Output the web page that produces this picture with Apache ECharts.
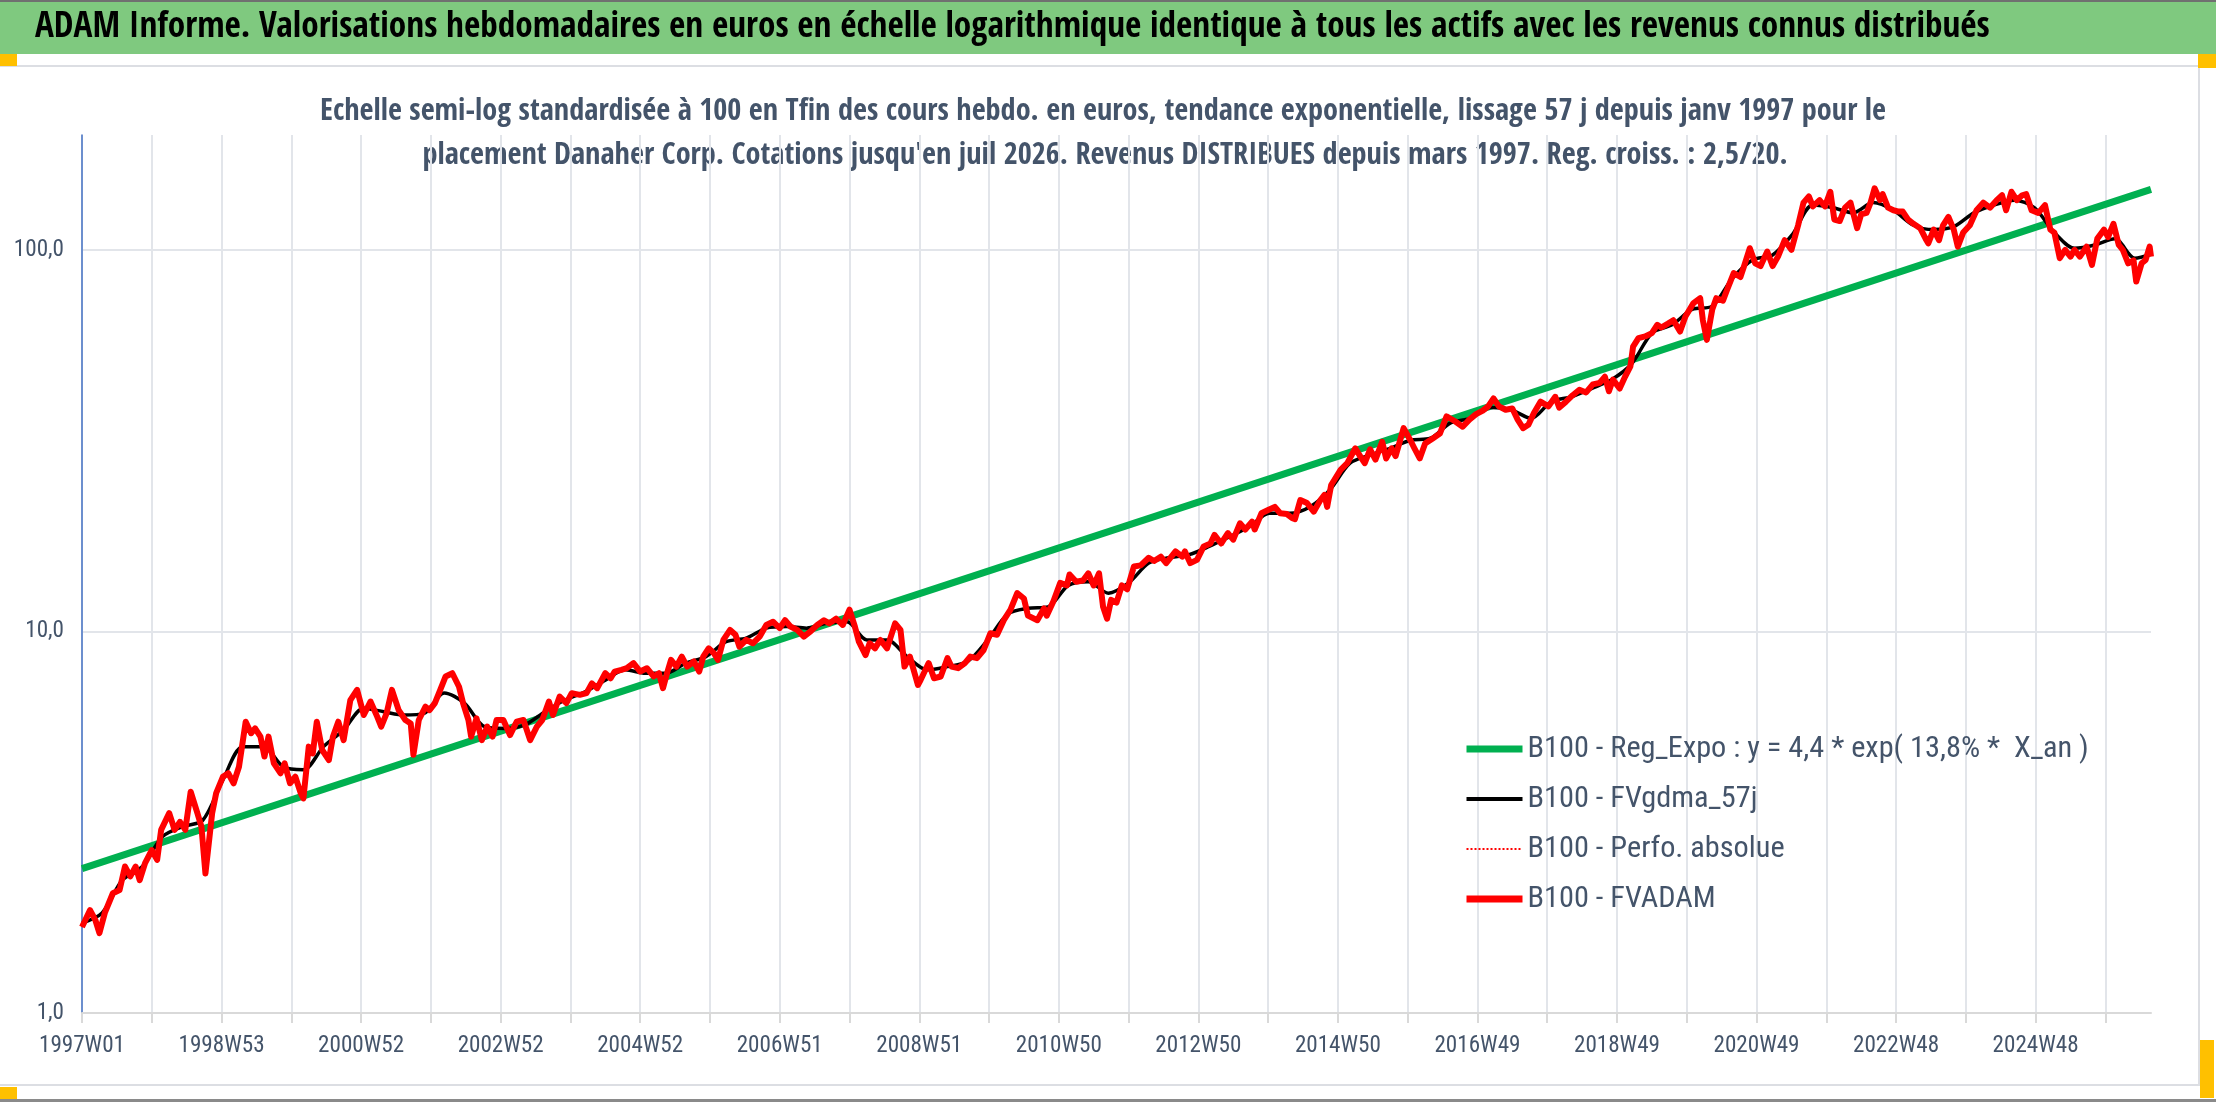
<!DOCTYPE html>
<html>
<head>
<meta charset="utf-8">
<script src="https://cdn.jsdelivr.net/npm/echarts@6/dist/echarts.min.js"></script>
<style>
  html, body { margin: 0; padding: 0; background: #fff; }
  #chart { width: 2216px; height: 1102px; }
</style>
</head>
<body>
<div id="chart"></div>
<script>
// Week labels: ISO weeks from 1997W01 (Mon 30 Dec 1996), weekly up to July 2026
const WEEK_COUNT = 1543;

// Values, as [week index, value]
const regExpo = [[0, 2.39], [1542, 144]];

const fvgdma57 = [
  [0,1.72],[15,1.83],[30,2.23],[45,2.42],[60,2.90],[75,3.08],[90,3.20],[105,4.08],[120,4.99],[135,4.99],
  [150,4.42],[165,4.34],[180,4.99],[195,5.52],[210,6.29],[225,6.16],[240,6.04],[255,6.10],[270,6.9],[285,6.49],
  [300,5.63],[315,5.57],[330,5.69],[345,6.16],[360,6.61],[375,6.95],[390,7.45],[405,7.93],[420,7.77],[435,7.77],
  [450,8.26],[465,8.59],[480,9.40],[495,9.60],[510,10.2],[525,10.3],[540,10.2],[555,10.5],[570,10.6],[585,9.5],
  [600,9.5],[615,8.59],[630,7.93],[645,8.09],[660,8.34],[675,9.5],[690,11.1],[705,11.5],[720,11.6],[735,13.2],
  [750,13.5],[765,12.6],[780,13.4],[795,15.1],[810,15.6],[825,15.9],[840,16.7],[855,17.7],[870,18.8],[885,20.4],
  [900,20.4],[915,21.2],[930,23.5],[945,27.6],[960,29.0],[975,30.2],[990,31.7],[1005,32.1],[1020,35.2],[1035,36.2],
  [1050,38.6],[1065,38.1],[1080,36.2],[1095,40.0],[1110,41.2],[1125,43.3],[1140,45.7],[1155,50.3],[1170,60.5],[1185,63.6],
  [1200,69.8],[1215,71.2],[1230,84.2],[1245,94.1],[1260,97.0],[1275,110],[1290,131],[1305,129],[1320,125],[1335,133],
  [1350,127],[1365,116],[1380,113],[1395,115],[1410,125],[1425,131],[1440,135],[1455,129],[1470,111],[1485,101],
  [1500,103],[1515,107],[1530,95.1],[1542,97.4]
];

const fvadam = [
  [0,1.68],[6,1.86],[10,1.75],[13,1.62],[17,1.83],[23,2.06],[28,2.10],[32,2.42],[36,2.28],[40,2.42],
  [43,2.23],[47,2.47],[52,2.67],[56,2.52],[59,3.02],[65,3.34],[69,3.02],[73,3.17],[77,3.02],[81,3.80],
  [86,3.34],[89,3.08],[92,2.32],[97,3.34],[100,3.77],[105,4.16],[109,4.25],[113,4.0],[117,4.42],[122,5.80],
  [126,5.41],[129,5.57],[133,5.30],[136,4.70],[139,5.30],[143,4.51],[148,4.25],[151,4.51],[155,4.0],[159,4.16],
  [163,3.77],[165,3.65],[169,4.99],[172,4.79],[175,5.80],[179,4.89],[184,4.60],[187,5.30],[191,5.80],[195,5.19],
  [200,6.61],[205,7.03],[210,6.04],[215,6.55],[220,5.98],[223,5.63],[227,6.10],[231,7.03],[236,6.22],[241,5.86],
  [245,5.74],[247,4.75],[251,5.86],[256,6.35],[259,6.22],[263,6.49],[267,7.03],[271,7.62],[276,7.77],[281,7.16],
  [284,6.49],[288,5.86],[290,5.30],[294,5.92],[298,5.19],[302,5.63],[306,5.30],[309,5.86],[314,5.86],[319,5.35],
  [324,5.80],[329,5.86],[334,5.19],[339,5.63],[343,5.86],[348,6.55],[351,6.04],[356,6.75],[361,6.49],[365,6.89],
  [371,6.82],[376,6.89],[380,7.31],[384,7.10],[390,7.77],[394,7.54],[397,7.85],[402,7.93],[406,8.01],[411,8.26],
  [416,7.85],[421,8.01],[426,7.62],[430,7.77],[433,7.10],[436,7.77],[439,8.42],[443,8.09],[447,8.59],[451,8.09],
  [456,8.34],[460,7.85],[463,8.59],[467,9.03],[471,8.77],[474,8.42],[478,9.50],[483,10.09],[487,9.80],[490,9.12],
  [495,9.50],[500,9.31],[505,9.69],[510,10.4],[515,10.6],[520,10.2],[524,10.7],[528,10.3],[533,10.09],[538,9.69],
  [543,10.0],[548,10.4],[553,10.7],[557,10.5],[562,10.8],[567,10.4],[572,11.4],[576,10.3],[579,9.40],[584,8.67],
  [587,9.31],[591,9.03],[595,9.50],[600,9.03],[606,10.5],[610,10.09],[613,8.09],[617,8.59],[623,7.24],[625,7.46],
  [628,7.85],[631,8.26],[635,7.54],[640,7.62],[645,8.51],[648,8.09],[653,8.01],[658,8.26],[662,8.59],[667,8.51],
  [672,8.94],[677,9.89],[682,9.80],[687,10.7],[692,11.4],[697,12.6],[702,12.2],[705,11.0],[712,10.7],[717,11.5],
  [719,11.0],[724,12.0],[729,13.4],[734,13.2],[736,14.1],[741,13.5],[746,13.6],[750,14.2],[754,13.2],[758,14.2],
  [761,11.6],[764,10.8],[767,12.1],[771,11.9],[775,13.2],[779,12.9],[784,14.8],[789,14.9],[795,15.6],[799,15.3],
  [804,15.7],[808,15.1],[815,16.2],[820,15.7],[822,16.2],[826,15.1],[831,15.4],[836,16.7],[841,17.0],[844,17.9],
  [849,17.0],[854,18.1],[858,17.4],[863,19.2],[867,18.5],[872,19.4],[874,18.5],[879,20.4],[884,20.8],[889,21.2],
  [893,20.4],[898,20.3],[902,19.8],[904,19.7],[908,22.1],[913,21.7],[918,20.6],[923,22.1],[926,22.8],[928,21.2],
  [931,24.2],[938,26.5],[943,27.6],[949,30.2],[952,29.0],[956,27.6],[960,30.0],[964,28.2],[969,31.4],[972,28.4],
  [976,30.2],[979,28.8],[985,34.1],[990,31.7],[993,30.2],[997,28.4],[1001,31.1],[1007,32.1],[1012,33.0],[1017,36.6],
  [1023,35.6],[1029,34.4],[1034,35.9],[1039,37.1],[1044,37.9],[1048,38.9],[1052,40.8],[1056,38.9],[1061,38.1],[1066,38.4],
  [1070,35.9],[1074,34.1],[1078,34.8],[1082,37.3],[1087,40.0],[1093,38.9],[1098,41.2],[1101,38.6],[1106,40.0],[1111,41.6],
  [1116,43.0],[1121,42.3],[1126,44.4],[1131,44.8],[1135,46.5],[1138,42.6],[1141,45.7],[1146,43.3],[1150,46.5],[1154,49.5],
  [1156,55.8],[1160,58.7],[1165,59.3],[1170,60.5],[1174,63.6],[1177,62.6],[1182,64.1],[1186,65.4],[1191,61.1],[1195,66.9],
  [1201,72.5],[1206,74.7],[1208,65.4],[1211,58.1],[1215,69.8],[1218,74.7],[1223,73.6],[1226,78.5],[1231,86.9],[1236,84.9],
  [1239,91.3],[1243,101],[1247,92.2],[1251,90.7],[1256,99],[1260,90.7],[1264,96.0],[1269,106],[1274,100],[1279,116],
  [1283,133],[1287,138],[1290,130],[1295,135],[1299,130],[1303,142],[1306,120],[1310,119],[1314,129],[1318,133],
  [1323,114],[1326,124],[1330,125],[1333,133],[1336,145],[1340,135],[1342,140],[1346,129],[1350,127],[1354,126],
  [1357,126],[1361,120],[1365,117],[1370,114],[1374,107],[1376,104],[1380,113],[1384,106],[1387,116],[1391,122],
  [1395,113],[1398,102],[1402,111],[1407,116],[1412,127],[1417,133],[1422,129],[1427,135],[1431,139],[1434,127],
  [1438,142],[1442,135],[1446,139],[1449,140],[1453,127],[1458,125],[1463,131],[1467,113],[1470,111],[1474,95.1],
  [1478,100],[1482,96.0],[1485,100],[1489,96],[1494,102],[1498,91.3],[1502,107],[1507,113],[1510,108],[1514,117],
  [1518,103],[1521,100],[1525,92.2],[1529,93.9],[1531,82.6],[1535,92.2],[1538,94.1],[1541,102],[1542,96.0]
];

// Perfo. absolue sits exactly under FVADAM in the picture
const perfoAbsolue = fvadam;

const TITLE = "ADAM Informe. Valorisations hebdomadaires en euros en échelle logarithmique identique à tous les actifs avec les revenus connus distribués";
const SUB1 = "Echelle semi-log standardisée à 100 en Tfin des cours hebdo. en euros, tendance exponentielle, lissage 57 j depuis janv 1997 pour le";
const SUB2 = "placement Danaher Corp. Cotations jusqu'en juil 2026. Revenus DISTRIBUES depuis mars 1997. Reg. croiss. : 2,5/20.";
const NAMES = ["B100 - Reg_Expo : y = 4,4 * exp( 13,8% *  X_an )", "B100 - FVgdma_57j", "B100 - Perfo. absolue", "B100 - FVADAM"];

function isoWeekLabel(d) {
  const th = new Date(d.getTime() + 3 * 86400000);
  const y = th.getUTCFullYear();
  const wk = Math.floor((th.getTime() - Date.UTC(y, 0, 1)) / 86400000 / 7) + 1;
  return y + "W" + String(wk).padStart(2, "0");
}

const weeks = [];
for (let i = 0; i < WEEK_COUNT; i++) {
  weeks.push(isoWeekLabel(new Date(Date.UTC(1996, 11, 30) + i * 7 * 86400000)));
}

// use the narrowest sans installed (the picture uses a narrow one), sized to the picture's text widths
const ctx = document.createElement("canvas").getContext("2d");
function widthOf(text, font) { ctx.font = font; return ctx.measureText(text).width; }
function hasFont(f) {
  const s = "abcdefghijW0123";
  return widthOf(s, "40px '" + f + "', monospace") !== widthOf(s, "40px monospace") &&
         widthOf(s, "40px '" + f + "', serif") !== widthOf(s, "40px serif");
}
const candidates = ["Liberation Sans Narrow", "DejaVu Sans Condensed", "Noto Sans Condensed",
  "Open Sans Condensed", "Roboto Condensed", "Lato", "Roboto", "Noto Sans", "Liberation Sans"].filter(hasFont);
function narrowest(list, weight) {
  let best = list[0] || "sans-serif";
  for (const f of list) {
    if (widthOf(TITLE, weight + " 100px '" + f + "'") < widthOf(TITLE, weight + " 100px '" + best + "'")) best = f;
  }
  return best;
}
const FONT_B = narrowest(candidates, "bold");
// regular text only from families that really have a regular face (bold wider than normal)
const FONT = narrowest(candidates.filter(f =>
  widthOf(TITLE, "bold 100px '" + f + "'") > widthOf(TITLE, "normal 100px '" + f + "'") + 1), "normal");
function fit(text, weight, family, width) {
  return Math.round(1000 * width / widthOf(text, weight + " 100px '" + family + "'")) / 10;
}
const titleSize = fit(TITLE, "bold", FONT_B, 1953);
const subSize = fit(SUB1, "bold", FONT_B, 1566);
const legendSize = fit(NAMES[0], "normal", FONT, 562);
const axisSize = fit("1997W01", "normal", FONT, 86);
const TXT = "#44546a";

const chart = echarts.init(document.getElementById("chart"));
chart.setOption({
  animation: false,
  backgroundColor: "#ffffff",
  textStyle: { fontFamily: FONT },
  graphic: [
    { type: "rect", shape: { x: 0, y: 0, width: 2216, height: 54 }, style: { fill: "#7fc97f" }, silent: true },
    { type: "rect", shape: { x: 0, y: 0, width: 2216, height: 2 }, style: { fill: "#707070" }, silent: true },
    { type: "rect", shape: { x: 0, y: 1099, width: 2216, height: 3 }, style: { fill: "#8a8a8a" }, silent: true },
    { type: "rect", shape: { x: -2, y: 66, width: 2201, height: 1019 }, style: { fill: "none", stroke: "#dcdee3", lineWidth: 2 }, silent: true },
    { type: "rect", shape: { x: 0, y: 54, width: 17, height: 12 }, style: { fill: "#ffc000" }, silent: true },
    { type: "rect", shape: { x: 0, y: 1087, width: 17, height: 12 }, style: { fill: "#ffc000" }, silent: true },
    { type: "rect", shape: { x: 2198, y: 54, width: 18, height: 14 }, style: { fill: "#ffc000" }, silent: true },
    { type: "rect", shape: { x: 2200, y: 1040, width: 14, height: 58 }, style: { fill: "#ffc000" }, silent: true },
    {
      type: "text", x: 35, y: 28,
      style: { text: TITLE, fill: "#000", font: "bold " + titleSize + "px '" + FONT_B + "'", verticalAlign: "middle" }
    },
    {
      type: "text", x: 1103, y: 112,
      style: { text: SUB1, fill: TXT, font: "bold " + subSize + "px '" + FONT_B + "'", align: "center", verticalAlign: "middle" }
    },
    {
      type: "text", x: 1105, y: 156,
      style: { text: SUB2, fill: TXT, font: "bold " + subSize + "px '" + FONT_B + "'", align: "center", verticalAlign: "middle" }
    }
  ],
  legend: {
    orient: "vertical",
    left: 1458, top: 729,
    itemWidth: 56, itemHeight: 14, itemGap: 20,
    data: [
      { name: NAMES[0], itemStyle: { opacity: 0 }, lineStyle: { width: 7 } },
      { name: NAMES[1], itemStyle: { opacity: 0 }, lineStyle: { width: 4 } },
      { name: NAMES[2], itemStyle: { opacity: 0 }, lineStyle: { width: 2, type: "dotted" } },
      { name: NAMES[3], itemStyle: { opacity: 0 }, lineStyle: { width: 7 } }
    ],
    textStyle: { fontFamily: FONT, fontSize: legendSize, color: TXT, lineHeight: 30 }
  },
  grid: { left: 82, right: 65, top: 135, bottom: 89, containLabel: false },
  xAxis: {
    type: "category",
    data: weeks,
    boundaryGap: false,
    axisLine: { show: true, lineStyle: { color: "#d9d9d9", width: 2 } },
    axisTick: { show: true, interval: 51, length: 10, lineStyle: { color: "#d9d9d9", width: 2 } },
    axisLabel: { interval: 103, color: TXT, fontSize: axisSize, fontFamily: FONT, margin: 22 },
    splitLine: { show: true, interval: 51, lineStyle: { color: "#e2e5ea", width: 2 } }
  },
  yAxis: {
    type: "log",
    logBase: 10,
    min: 1, max: 200,
    axisLine: { show: true, lineStyle: { color: "#4472c4", width: 1.5 } },
    axisTick: { show: false },
    axisLabel: {
      color: TXT, fontSize: axisSize, fontFamily: FONT, margin: 18, showMaxLabel: false,
      formatter: v => (Math.round(v * 10) / 10).toFixed(1).replace(".", ",")
    },
    splitLine: { show: true, showMaxLine: false, lineStyle: { color: "#e2e5ea", width: 2 } }
  },
  series: [
    {
      name: NAMES[0],
      type: "line", data: regExpo, symbol: "none",
      lineStyle: { color: "#00b050", width: 7 }, itemStyle: { color: "#00b050" }
    },
    {
      name: NAMES[1],
      type: "line", data: fvgdma57, symbol: "none", smooth: 0.3,
      lineStyle: { color: "#000000", width: 3.5 }, itemStyle: { color: "#000000" }
    },
    {
      name: NAMES[2],
      type: "line", data: perfoAbsolue, symbol: "none",
      lineStyle: { color: "#ff0000", width: 2, type: "dotted" }, itemStyle: { color: "#ff0000" }
    },
    {
      name: NAMES[3],
      type: "line", data: fvadam, symbol: "none",
      lineStyle: { color: "#ff0000", width: 6, join: "round" }, itemStyle: { color: "#ff0000" }
    }
  ]
});
</script>
</body>
</html>
